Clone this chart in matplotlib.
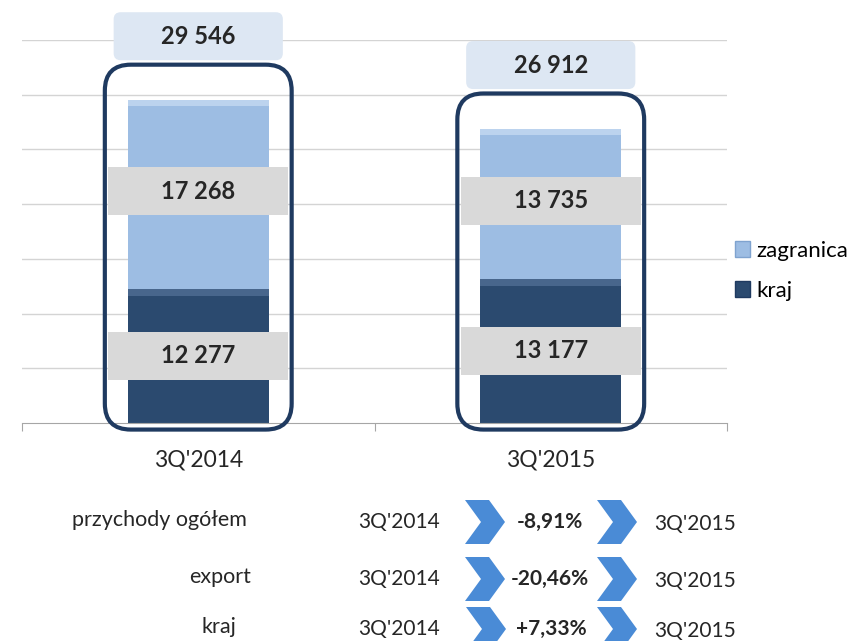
import matplotlib
matplotlib.use("Agg")
import matplotlib.pyplot as plt
from matplotlib.patches import FancyBboxPatch, Rectangle, Polygon, Patch

plt.rcParams['font.family'] = ['Lato', 'DejaVu Sans']

# ---- data ----
categories = ["3Q'2014", "3Q'2015"]
kraj = [12277, 13177]
zagranica = [17268, 13735]
totals = [29546, 26912]
row_names = ["przychody ogółem", "export", "kraj"]
row_changes = [-8.91, -20.46, 7.33]
period_from = "3Q'2014"
period_to = "3Q'2015"


def fmt(v):
    return f"{v:,}".replace(",", " ")


def fmt_pct(v):
    return f"{v:+.2f}%".replace(".", ",")


W, H = 847, 641
fig = plt.figure(figsize=(W / 100, H / 100), dpi=100)
fig.patch.set_facecolor("white")

ax = fig.add_axes([22 / W, 1 - 423 / H, 705 / W, 383 / H])
ax.set_xlim(0, 2)
ax.set_ylim(0, 35000)

dark = "#2b4a6f"
light = "#9dbde3"
edge = "#1f3a60"
txt = "#262626"

xs = [0.5 + i for i in range(len(categories))]
bw = 0.4
tops = [k + z for k, z in zip(kraj, zagranica)]
ax.bar(xs, kraj, width=bw, color=dark, zorder=2, label="kraj")
ax.bar(xs, zagranica, bottom=kraj, width=bw, color=light, zorder=2, label="zagranica")
# bevel highlights
ax.bar(xs, [600 for _ in tops], bottom=[t - 600 for t in tops], width=bw,
       color="#bcd3ee", zorder=2)
ax.bar(xs, [700 for _ in kraj], bottom=[k - 700 for k in kraj], width=bw,
       color="#48668c", zorder=2)

# grid and axis styling
ax.set_yticks(range(5000, 35001, 5000))
ax.yaxis.grid(True, color="#d4d4d4", lw=1.0)
ax.set_axisbelow(True)
ax.tick_params(axis="y", length=0, labelleft=False)
for s in ["top", "left", "right"]:
    ax.spines[s].set_visible(False)
ax.spines["bottom"].set_color("#a6a6a6")
ax.set_xticks([0, 1, 2])
ax.set_xticklabels([])
ax.tick_params(axis="x", which="major", length=6, color="#a6a6a6")
ax.set_xticks(xs, minor=True)
ax.set_xticklabels(categories, minor=True, fontsize=16.5, color=txt)
ax.tick_params(axis="x", which="minor", length=0, pad=19)

# pixel scale for rounded shapes
p0 = ax.transData.transform((0, 0))
p1 = ax.transData.transform((1, 1))
ux = 1 / (p1[0] - p0[0])   # data x per px
uy = 1 / (p1[1] - p0[1])   # data y per px
aspect = uy / ux

for x, t, top in zip(xs, totals, tops):
    # rounded outline box
    bx0, bx1 = x - 0.265, x + 0.265
    by0, by1 = -600, top + 3200
    ax.add_patch(FancyBboxPatch((bx0, by0), bx1 - bx0, by1 - by0,
                                boxstyle=f"round,pad=0,rounding_size={26 * ux}",
                                mutation_aspect=aspect, fill=False, ec=edge, lw=3,
                                zorder=3, clip_on=False))
    # total label box
    tw, th = 0.48, 48 * uy
    cy = top + 5800
    ax.add_patch(FancyBboxPatch((x - tw / 2, cy - th / 2), tw, th,
                                boxstyle=f"round,pad=0,rounding_size={7 * ux}",
                                mutation_aspect=aspect, fc="#dde7f3", ec="none",
                                zorder=4, clip_on=False))
    ax.text(x, cy, fmt(t), ha="center", va="center", fontsize=17,
            fontweight="bold", color=txt, zorder=5, clip_on=False)

for x, k, z in zip(xs, kraj, zagranica):
    for v, mid in ((k, k / 2), (z, k + z / 2 + 250)):
        gw, gh = 0.51, 48 * uy
        ax.add_patch(Rectangle((x - gw / 2, mid - gh / 2), gw, gh, fc="#d9d9d9",
                               ec="none", zorder=4))
        ax.text(x, mid, fmt(v), ha="center", va="center", fontsize=17,
                fontweight="bold", color=txt, zorder=5)

# legend
handles = [Patch(fc=light, ec="#7fa3cf"), Patch(fc=dark, ec="#1f3a60")]
fig.legend(handles, ["zagranica", "kraj"], loc="upper left",
           bbox_to_anchor=(726 / W, 1 - 232 / H), frameon=False, fontsize=16,
           handlelength=0.7, handleheight=0.7, handletextpad=0.25,
           labelspacing=0.9, borderaxespad=0)

# bottom comparison rows
row_y = [522, 579, 629]
name_x = [159, 220, 219]
chev1_x = [465, 465, 466]
chev2_x = [597, 597, 597]
pct_x = [550, 550, 551]


def px(x, y):
    return (x / W, 1 - y / H)


def chevron(x0, yc, w=40, h=44, d=16):
    pts = [(x0, yc - h / 2), (x0 + w - d, yc - h / 2), (x0 + w, yc),
           (x0 + w - d, yc + h / 2), (x0, yc + h / 2), (x0 + d, yc)]
    fig.patches.append(Polygon([px(*p) for p in pts], closed=True,
                               transform=fig.transFigure, fc="#4a8bd6", ec="none"))


for i, (name, ch) in enumerate(zip(row_names, row_changes)):
    y = row_y[i]
    fig.text(*px(name_x[i], y - 2), name, ha="center", va="center", fontsize=15.5,
             color=txt)
    fig.text(*px(399, y), period_from, ha="center", va="center", fontsize=15,
             color=txt)
    chevron(chev1_x[i], y)
    fig.text(*px(pct_x[i], y), fmt_pct(ch), ha="center", va="center", fontsize=15,
             fontweight="bold", color=txt)
    chevron(chev2_x[i], y)
    fig.text(*px(695, y + 2), period_to, ha="center", va="center", fontsize=15,
             color=txt)

fig.savefig("out.png", dpi=100)
